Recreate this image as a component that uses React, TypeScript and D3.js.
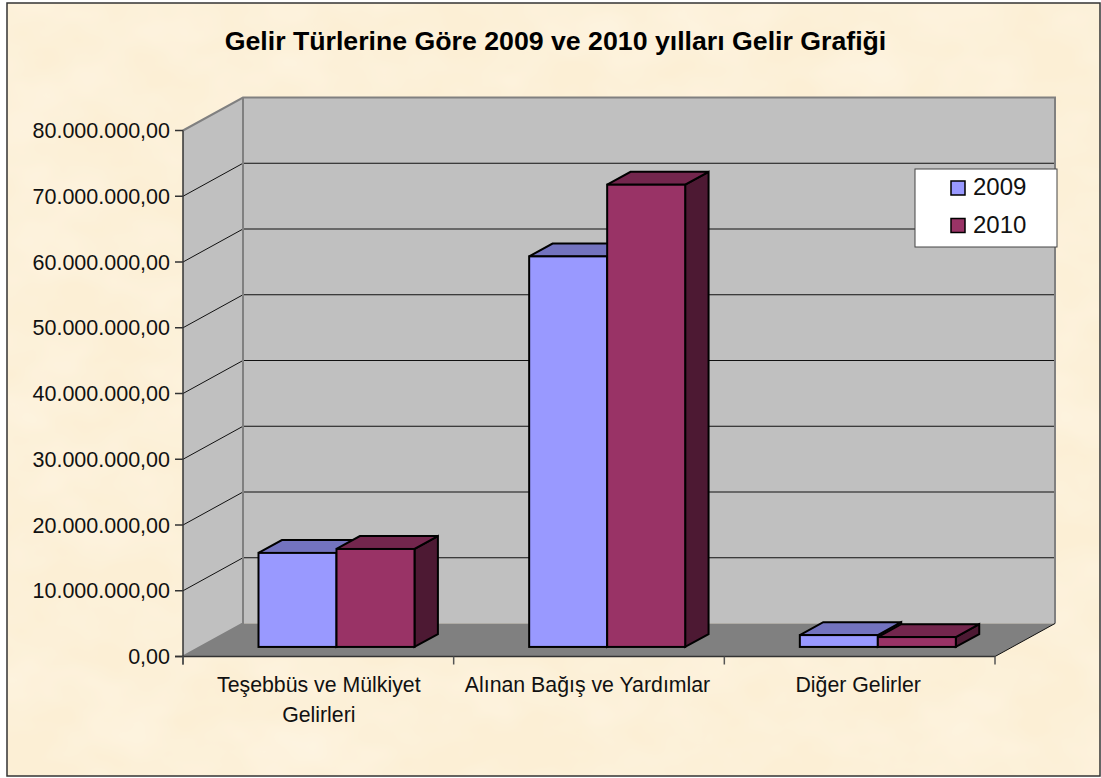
import React from "react";
import * as d3 from "d3";

const categories = ["Teşebbüs ve Mülkiyet Gelirleri", "Alınan Bağış ve Yardımlar", "Diğer Gelirler"];
const categoryLines = [["Teşebbüs ve Mülkiyet", "Gelirleri"], ["Alınan Bağış ve Yardımlar"], ["Diğer Gelirler"]];
const seriesNames = ["2009", "2010"];
const values2009 = [14300000, 59400000, 1800000];
const values2010 = [14900000, 70300000, 1500000];
const yTicks = [0, 10000000, 20000000, 30000000, 40000000, 50000000, 60000000, 70000000, 80000000];
const titleText = "Gelir Türlerine Göre 2009 ve 2010 yılları Gelir Grafiği";

const front = ["#9999FF", "#993366"];
const top = ["#7373BF", "#73264D"];
const side = ["#4D4D80", "#4D1933"];
const FONT = "'Liberation Sans', Arial, sans-serif";

const fmt = (v: number) => d3.format(",.2f")(v).replace(/,/g, "#").replace(".", ",").replace(/#/g, ".");

export default function App() {
  const y = d3.scaleLinear().domain([0, 80000000]).range([656.5, 130.5]);
  const x = d3.scaleBand<string>().domain(categories).range([183, 995]).paddingInner(0).paddingOuter(0);
  const step = x.step();
  const DX = 60, DY = -33;
  const barW = 78;
  const zFront = 0.29, zDepth = 0.39;
  const wallL = 183 + DX, wallR = 995 + DX;
  const labelShift = [0.5, -1.5, -1.5];
  const pts = (a: [number, number][]) => a.map((p) => p.join(",")).join(" ");
  const series = [values2009, values2010];

  return (
    <svg width={1101} height={778} style={{ position: "absolute", left: 0, top: 0 }}>
      <defs>
        <filter id="parch" x="0" y="0" width="100%" height="100%">
          <feTurbulence type="fractalNoise" baseFrequency="0.012 0.018" numOctaves={3} seed={7} />
          <feColorMatrix type="matrix" values="0 0 0 0 1  0 0 0 0 0.97  0 0 0 0 0.9  0.6 0 0 0 -0.18" />
        </filter>
      </defs>
      <rect x={0} y={0} width={1101} height={778} fill="#fff" />
      <rect x={7} y={3} width={1093} height={773} fill="#FCEFD5" />
      <rect x={7} y={3} width={1093} height={773} filter="url(#parch)" />
      <rect x={7} y={3} width={1093} height={773} fill="none" stroke="#333" strokeWidth={1.5} />

      <text x={555.5} y={50} textAnchor="middle" fontFamily={FONT} fontWeight="bold" fontSize={26.7} fill="#000">{titleText}</text>

      {/* walls and floor */}
      <polygon points={pts([[183, y(0)], [wallL, y(0) + DY], [wallL, y(80000000) + DY], [183, y(80000000)]])} fill="#C0C0C0" />
      <rect x={wallL} y={y(80000000) + DY} width={wallR - wallL} height={y(0) - y(80000000)} fill="#C0C0C0" />
      <polygon points={pts([[183, y(0)], [wallL, y(0) + DY], [wallR, y(0) + DY], [995, y(0)]])} fill="#808080" />

      {yTicks.slice(1, -1).map((t) => (
        <path key={t} d={`M183,${y(t)}L${wallL},${y(t) + DY}L${wallR},${y(t) + DY}`} fill="none" stroke="#111" strokeWidth={1} />
      ))}
      <path d={`M183,${y(80000000)}L${wallL},${y(80000000) + DY}L${wallR},${y(80000000) + DY}L${wallR},${y(0) + DY}`} fill="none" stroke="#808080" strokeWidth={2} />
      <path d={`M${wallL},${y(80000000) + DY}V${y(0) + DY}L183,${y(0)}`} fill="none" stroke="#808080" strokeWidth={2} />
      <path d={`M995,${y(0)}L${wallR},${y(0) + DY}`} stroke="#111" strokeWidth={1} />

      {/* bars */}
      {categories.map((c, i) => {
        const x0 = (x(c) as number) + 75.5;
        return (
          <g key={c}>
            {series.map((s, k) => {
              const bx = x0 + k * barW;
              const dy = DY * zFront;
              const ox = DX * zDepth, oy = DY * zDepth;
              const yb = y(0) + dy;
              const yt = y(s[i]) + dy;
              return (
                <g key={k} stroke="#000" strokeWidth={2} strokeLinejoin="miter">
                  <polygon points={pts([[bx + barW, yt], [bx + barW + ox, yt + oy], [bx + barW + ox, yb + oy], [bx + barW, yb]])} fill={side[k]} />
                  <polygon points={pts([[bx, yt], [bx + ox, yt + oy], [bx + barW + ox, yt + oy], [bx + barW, yt]])} fill={top[k]} />
                  <rect x={bx} y={yt} width={barW} height={yb - yt} fill={front[k]} />
                </g>
              );
            })}
          </g>
        );
      })}

      {/* axes */}
      <line x1={183} x2={183} y1={y(80000000)} y2={y(0) + 8} stroke="#333" strokeWidth={1.5} />
      <line x1={175} x2={995} y1={y(0)} y2={y(0)} stroke="#333" strokeWidth={1.5} />
      {yTicks.map((t) => (
        <g key={t}>
          <line x1={175} x2={183} y1={y(t)} y2={y(t)} stroke="#333" strokeWidth={1.5} />
          <text x={170} y={y(t) + 7.5} textAnchor="end" fontFamily={FONT} fontSize={21.5} fill="#111">{fmt(t)}</text>
        </g>
      ))}
      {[...categories.map((c) => x(c) as number), 183 + step * 3].map((tx, i) => (
        <line key={i} x1={tx} x2={tx} y1={y(0)} y2={y(0) + 8} stroke="#555" strokeWidth={1.5} />
      ))}
      {categories.map((c, i) => (
        <text key={c} textAnchor="middle" fontFamily={FONT} fontSize={21.3} fill="#111">
          {categoryLines[i].map((ln, j) => (
            <tspan key={j} x={(x(c) as number) + step / 2 + labelShift[i]} y={692 + j * 30}>{ln}</tspan>
          ))}
        </text>
      ))}

      {/* legend */}
      <rect x={915} y={169} width={142} height={78} fill="#fff" stroke="#444" strokeWidth={1} />
      {seriesNames.map((n, k) => (
        <g key={n}>
          <rect x={951} y={181 + k * 37.5} width={14} height={14} fill={front[k]} stroke="#000" strokeWidth={1.5} />
          <text x={973} y={195 + k * 38} fontFamily={FONT} fontSize={24} fill="#111">{n}</text>
        </g>
      ))}
    </svg>
  );
}
